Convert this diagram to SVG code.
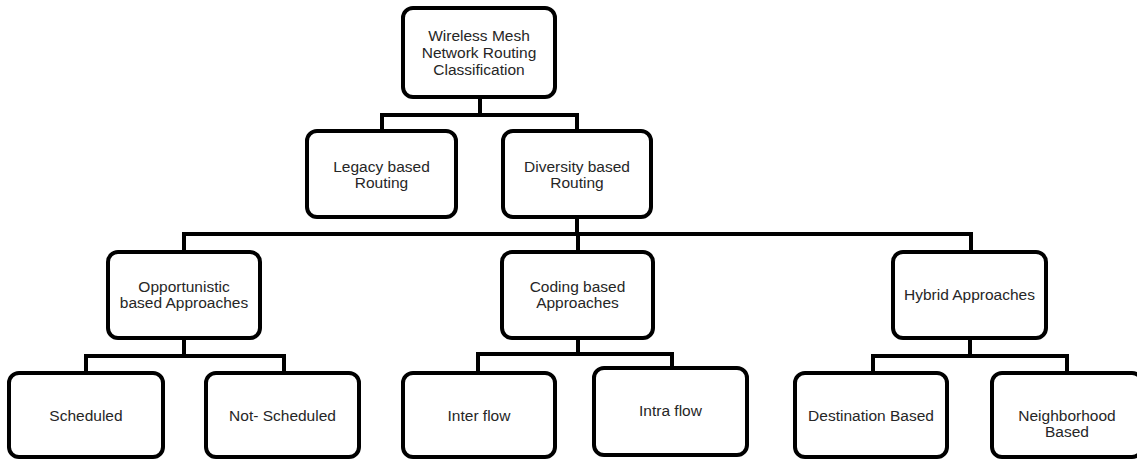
<svg xmlns="http://www.w3.org/2000/svg" width="1137" height="459" viewBox="0 0 1137 459">
<style>
.box{fill:#fff;stroke:#000;stroke-width:4}
.lbl{font-family:"Liberation Sans",Arial,sans-serif;font-size:15.5px;fill:#262626;text-anchor:middle}
.con{fill:none;stroke:#000;stroke-width:4;stroke-linejoin:miter}
</style>
<rect width="1137" height="459" fill="#fff"/>
<g id="connectors">
<path class="con" d="M480,97V115M382,131V115H577V131"/>
<path class="con" d="M577,217V234M184,252V234H971V252M578,234V252"/>
<path class="con" d="M184,338V356M86,373V356H284V373"/>
<path class="con" d="M578,338V354M478,373V354H672V368"/>
<path class="con" d="M970,338V356M873,373V356H1067V373"/>
</g>
<g id="root">
<rect class="box" x="403" y="8" width="152" height="89" rx="10"/>
<text class="lbl" x="479" y="41">Wireless Mesh</text>
<text class="lbl" x="479" y="58">Network Routing</text>
<text class="lbl" x="479" y="75">Classification</text>
</g>
<g id="legacy">
<rect class="box" x="307" y="131" width="149" height="86" rx="10"/>
<text class="lbl" x="381.5" y="172">Legacy based</text>
<text class="lbl" x="381.5" y="188">Routing</text>
</g>
<g id="diversity">
<rect class="box" x="503" y="131" width="148" height="86" rx="10"/>
<text class="lbl" x="577" y="172">Diversity based</text>
<text class="lbl" x="577" y="188">Routing</text>
</g>
<g id="opportunistic">
<rect class="box" x="108" y="252" width="152" height="86" rx="10"/>
<text class="lbl" x="184" y="292">Opportunistic</text>
<text class="lbl" x="184" y="308">based Approaches</text>
</g>
<g id="coding">
<rect class="box" x="502" y="252" width="151" height="86" rx="10"/>
<text class="lbl" x="577.5" y="292">Coding based</text>
<text class="lbl" x="577.5" y="308">Approaches</text>
</g>
<g id="hybrid">
<rect class="box" x="893" y="252" width="153" height="86" rx="10"/>
<text class="lbl" x="969.5" y="300">Hybrid Approaches</text>
</g>
<g id="scheduled">
<rect class="box" x="9" y="373" width="154" height="84" rx="10"/>
<text class="lbl" x="86" y="421">Scheduled</text>
</g>
<g id="not-scheduled">
<rect class="box" x="206" y="373" width="153" height="84" rx="10"/>
<text class="lbl" x="282.5" y="421">Not- Scheduled</text>
</g>
<g id="inter-flow">
<rect class="box" x="403" y="373" width="152" height="84" rx="10"/>
<text class="lbl" x="479" y="421">Inter flow</text>
</g>
<g id="intra-flow">
<rect class="box" x="594" y="368" width="153" height="87" rx="10"/>
<text class="lbl" x="670.5" y="416">Intra flow</text>
</g>
<g id="destination">
<rect class="box" x="795" y="373" width="152" height="84" rx="10"/>
<text class="lbl" x="871" y="421">Destination Based</text>
</g>
<g id="neighborhood">
<rect class="box" x="992" y="373" width="150" height="84" rx="10"/>
<text class="lbl" x="1067" y="421">Neighborhood</text>
<text class="lbl" x="1067" y="437">Based</text>
</g>
</svg>
